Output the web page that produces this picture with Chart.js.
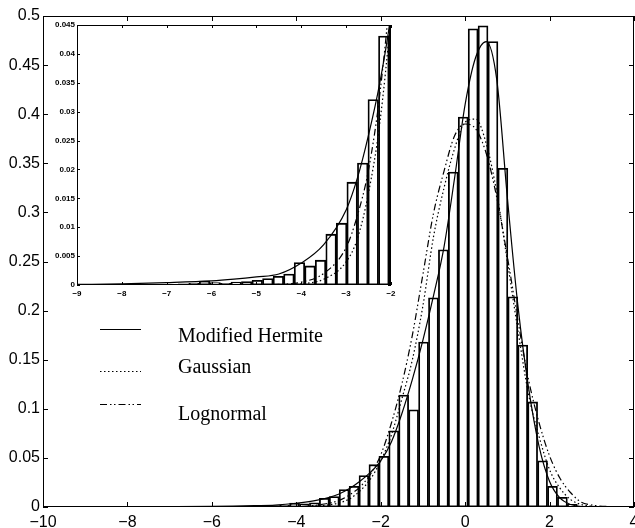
<!DOCTYPE html>
<html>
<head>
<meta charset="utf-8">
<script src="https://cdn.jsdelivr.net/npm/chart.js@4"></script>
<style>
  body { margin: 0; background: #fff; }
  #wrap { position: relative; width: 635px; height: 528px; }
  #inset { position: absolute; left: 0; top: 0; }
</style>
</head>
<body>
<div id="wrap">
  <canvas id="main" width="635" height="528"></canvas>
  <canvas id="inset" width="635" height="528"></canvas>
</div>
<script>
// histogram bins (centres) and normalised counts
const binCenters = [-6.626, -6.391, -6.156, -5.921, -5.686, -5.451, -5.216, -4.981, -4.746, -4.511,
  -4.276, -4.041, -3.806, -3.571, -3.336, -3.101, -2.866, -2.631, -2.396, -2.161,
  -1.926, -1.691, -1.456, -1.221, -0.986, -0.751, -0.516, -0.281, -0.046, 0.189,
  0.424, 0.659, 0.894, 1.129, 1.364, 1.599, 1.834, 2.069, 2.304, 2.539, 2.774, 3.009];
const binDensity = [0.0002, 0.0003, 0.0007, 0.0004, 0.0003, 0.0005, 0.0006, 0.0008, 0.0011, 0.0015,
  0.0019, 0.0039, 0.0033, 0.0043, 0.0088, 0.0107, 0.0178, 0.0211, 0.0321, 0.0431,
  0.0517, 0.0775, 0.114, 0.099, 0.168, 0.213, 0.262, 0.341, 0.397, 0.487,
  0.490, 0.474, 0.345, 0.214, 0.165, 0.107, 0.047, 0.021, 0.0099, 0.0028, 0.001, 0.0005];

// fitted densities sampled on a common x grid
const curveX = [-10, -9, -8, -7, -6, -5.5, -5, -4.5, -4, -3.5, -3, -2.75, -2.5, -2.25, -2, -1.75, -1.5, -1.25,
  -1, -0.75, -0.5, -0.25, 0, 0.25, 0.5, 0.75, 1, 1.25, 1.5, 1.75, 2, 2.25, 2.5, 2.75, 3, 3.5, 4];
const hermite = [0, 0.0001, 0.0002, 0.0004, 0.0007, 0.001, 0.0014, 0.0019, 0.0038, 0.007, 0.013, 0.0185, 0.026, 0.035,
  0.047, 0.066, 0.095, 0.13, 0.17, 0.215, 0.265, 0.335, 0.41, 0.458, 0.474, 0.435, 0.315, 0.205, 0.122, 0.062,
  0.026, 0.009, 0.0025, 0.0005, 0, 0, 0];
const gaussian = [0, 0, 0, 0, 0, 0, 0, 0, 0.0002, 0.001, 0.004, 0.008, 0.016, 0.028,
  0.047, 0.073, 0.11, 0.15, 0.205, 0.275, 0.325, 0.365, 0.392, 0.395, 0.37, 0.32, 0.25, 0.18, 0.115, 0.072,
  0.038, 0.019, 0.0075, 0.0025, 0.0008, 0, 0];
const lognormal = [0, 0, 0, 0, 0, 0, 0, 0.0001, 0.0005, 0.002, 0.0065, 0.012, 0.02, 0.033,
  0.053, 0.085, 0.125, 0.175, 0.237, 0.299, 0.342, 0.378, 0.39, 0.385, 0.36, 0.315, 0.255, 0.19, 0.13, 0.086,
  0.052, 0.029, 0.0145, 0.005, 0.002, 0.0003, 0];

const legendLabels = ['Modified Hermite', 'Gaussian', 'Lognormal'];
const lineDashes = [[], [1.5, 2.5], [7, 3, 1.5, 2.5, 1.5, 3]];

const pts = ys => curveX.map((x, i) => ({ x: x, y: ys[i] }));
const bars = binCenters.map((x, i) => ({ x: x, y: binDensity[i] }));
const minus = v => String(+v.toFixed(4)).replace('-', '\u2212');

// closed frame with inward ticks on all four sides
const boxFrame = {
  id: 'boxFrame',
  beforeDatasetsDraw(chart, args, opts) {
    if (!opts.fill) return;
    const a = chart.chartArea;
    chart.ctx.save();
    chart.ctx.fillStyle = '#fff';
    chart.ctx.fillRect(a.left, a.top, a.right - a.left, a.bottom - a.top);
    chart.ctx.restore();
  },
  afterDatasetsDraw(chart, args, opts) {
    const { ctx, chartArea: a, scales: { x, y } } = chart;
    const len = opts.tickLen;
    ctx.save();
    ctx.strokeStyle = '#000';
    ctx.lineWidth = 1;
    ctx.strokeRect(a.left + 0.5, a.top + 0.5, a.right - a.left - 1, a.bottom - a.top - 1);
    ctx.beginPath();
    x.ticks.forEach(t => {
      const px = Math.round(x.getPixelForValue(t.value)) + 0.5;
      ctx.moveTo(px, a.bottom); ctx.lineTo(px, a.bottom - len);
      ctx.moveTo(px, a.top); ctx.lineTo(px, a.top + len);
    });
    y.ticks.forEach(t => {
      const py = Math.round(y.getPixelForValue(t.value)) + 0.5;
      ctx.moveTo(a.left, py); ctx.lineTo(a.left + len, py);
      ctx.moveTo(a.right, py); ctx.lineTo(a.right - len, py);
    });
    ctx.stroke();
    ctx.restore();
  }
};

// legend: sample line on the left, serif label on the right
const sideLegend = {
  id: 'sideLegend',
  afterDraw(chart) {
    const ctx = chart.ctx;
    const rows = [
      { ly: 329.5, ty: 341.5 },
      { ly: 371.5, ty: 372.5 },
      { ly: 404.5, ty: 420 }
    ];
    ctx.save();
    ctx.strokeStyle = '#000';
    ctx.fillStyle = '#000';
    ctx.lineWidth = 1.2;
    ctx.font = '20px "Liberation Serif", "Times New Roman", serif';
    ctx.textBaseline = 'alphabetic';
    rows.forEach((r, i) => {
      ctx.setLineDash(lineDashes[i]);
      ctx.beginPath();
      ctx.moveTo(100, r.ly);
      ctx.lineTo(141, r.ly);
      ctx.stroke();
      ctx.fillText(legendLabels[i], 178, r.ty);
    });
    ctx.restore();
  }
};

function datasets() {
  const line = (label, ys, i) => ({
    type: 'line', label: label, data: pts(ys), borderColor: '#000', borderWidth: 1.2,
    borderDash: lineDashes[i], pointRadius: 0, fill: false, cubicInterpolationMode: 'monotone',
    order: i + 1, clip: 0
  });
  return [
    line(legendLabels[0], hermite, 0),
    line(legendLabels[1], gaussian, 1),
    line(legendLabels[2], lognormal, 2),
    {
      type: 'bar', label: 'histogram', data: bars, backgroundColor: '#fff', borderColor: '#000',
      borderWidth: 1.8, borderSkipped: false, barPercentage: 1, categoryPercentage: 1, order: 5, clip: 0
    }
  ];
}

function axes(xr, yr, font, xPad, yPad, yWidth, xHeight) {
  return {
    x: {
      type: 'linear', min: xr[0], max: xr[1], offset: false,
      grid: { display: false, drawTicks: false }, border: { display: false },
      ticks: { stepSize: xr[2], color: '#000', font: font, padding: xPad, maxRotation: 0, callback: minus },
      afterFit(s) { s.height = xHeight; s.paddingLeft = 0; s.paddingRight = 0; }
    },
    y: {
      min: yr[0], max: yr[1],
      grid: { display: false, drawTicks: false }, border: { display: false },
      ticks: { stepSize: yr[2], color: '#000', font: font, padding: yPad, callback: minus },
      afterFit(s) { s.width = yWidth; s.paddingTop = 0; s.paddingBottom = 0; }
    }
  };
}

new Chart(document.getElementById('main'), {
  type: 'line',
  data: { datasets: datasets() },
  options: {
    responsive: false, animation: false, devicePixelRatio: 1,
    layout: { padding: { top: 16, right: 1, bottom: 0, left: 0 } },
    scales: axes([-10, 4, 2], [0, 0.5, 0.05], { family: '"Liberation Sans", Arial, sans-serif', size: 16 }, 6, 3, 43, 21),
    plugins: { legend: { display: false }, tooltip: { enabled: false }, boxFrame: { tickLen: 5 } }
  },
  plugins: [boxFrame, sideLegend]
});

new Chart(document.getElementById('inset'), {
  type: 'line',
  data: { datasets: datasets() },
  options: {
    responsive: false, animation: false, devicePixelRatio: 1,
    layout: { padding: { top: 25, right: 244, bottom: 229, left: 0 } },
    scales: axes([-9, -2, 1], [0, 0.045, 0.005], { family: '"Liberation Sans", Arial, sans-serif', size: 8, weight: 'bold' }, 4, 2, 77, 14),
    plugins: { legend: { display: false }, tooltip: { enabled: false }, boxFrame: { tickLen: 3, fill: true } }
  },
  plugins: [boxFrame]
});
</script>
</body>
</html>
